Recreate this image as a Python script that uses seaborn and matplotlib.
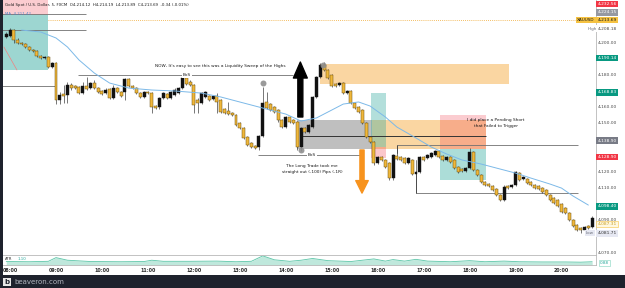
import numpy as np
import pandas as pd
import matplotlib
matplotlib.use("Agg")
import matplotlib.pyplot as plt
import matplotlib.transforms as mtransforms
from matplotlib.patches import Rectangle
import seaborn as sns

sns.set_style("white")
plt.rcParams['font.family'] = ['DejaVu Sans']

# ---------------- data (5-minute candles, XAUUSD) ----------------
times = pd.date_range("2025-01-01 07:55", periods=154, freq="5min")

opens = [4203.1, 4203.7, 4207.4, 4201.2, 4199.4, 4198.8, 4196.9, 4195.1, 4194.4, 4191.3,
         4190.1, 4190.7, 4184.5, 4187.0, 4164.1, 4167.8, 4167.2, 4173.4, 4172.8, 4172.1,
         4168.4, 4172.8, 4171.5, 4174.6, 4171.5, 4169.7, 4168.4, 4170.9, 4165.3, 4171.5,
         4169.1, 4169.1, 4177.1, 4172.8, 4171.5, 4168.4, 4166.0, 4169.1, 4168.4, 4160.4,
         4159.8, 4165.3, 4167.8, 4165.3, 4167.2, 4168.4, 4171.5, 4177.7, 4175.2, 4173.4,
         4164.1, 4162.2, 4166.0, 4166.6, 4164.7, 4166.6, 4164.1, 4158.5, 4157.3, 4156.1,
         4154.8, 4149.9, 4146.8, 4141.2, 4137.5, 4135.6, 4135.0, 4141.8, 4162.9, 4161.6,
         4159.8, 4157.9, 4151.7, 4147.4, 4153.6, 4151.7, 4150.5, 4135.0, 4146.8, 4144.3,
         4147.4, 4166.0, 4178.3, 4185.8, 4182.7, 4179.6, 4174.0, 4173.4, 4174.6, 4168.4,
         4169.7, 4162.2, 4159.8, 4157.9, 4149.9, 4141.2, 4138.1, 4125.1, 4128.8, 4127.0,
         4125.1, 4115.8, 4129.4, 4128.8, 4128.2, 4125.1, 4127.0, 4118.3, 4119.5, 4128.8,
         4128.2, 4128.8, 4130.1, 4132.5, 4129.4, 4127.0, 4128.8, 4127.0, 4122.6, 4121.4,
         4120.2, 4122.0, 4131.9, 4120.8, 4117.7, 4113.3, 4112.1, 4110.9, 4109.0, 4105.3,
         4102.2, 4110.9, 4110.2, 4111.5, 4118.9, 4115.2, 4115.2, 4113.3, 4111.5, 4110.9,
         4109.6, 4108.4, 4105.3, 4103.4, 4102.2, 4099.7, 4097.2, 4094.2, 4089.8, 4086.7,
         4084.9, 4083.6, 4086.1, 4085.5]
highs = [4206.2, 4208.7, 4208.0, 4202.5, 4200.0, 4199.4, 4197.5, 4195.7, 4195.1, 4192.0,
         4191.3, 4191.3, 4187.6, 4187.6, 4169.1, 4173.4, 4175.2, 4174.6, 4173.4, 4172.8,
         4175.2, 4178.3, 4175.2, 4176.5, 4172.1, 4170.3, 4171.5, 4171.5, 4173.4, 4172.1,
         4169.7, 4177.7, 4177.7, 4173.4, 4172.1, 4169.1, 4169.7, 4169.7, 4169.1, 4161.0,
         4166.0, 4169.1, 4168.4, 4169.7, 4171.5, 4172.1, 4180.2, 4179.0, 4176.5, 4174.0,
         4165.3, 4169.1, 4169.7, 4167.2, 4167.2, 4168.4, 4164.7, 4159.1, 4162.9, 4156.7,
         4155.4, 4150.5, 4147.4, 4141.8, 4138.1, 4136.2, 4142.4, 4172.1, 4169.1, 4162.2,
         4160.4, 4158.5, 4152.3, 4154.2, 4154.2, 4152.3, 4151.1, 4147.4, 4147.4, 4149.3,
         4166.6, 4179.0, 4187.0, 4187.6, 4183.3, 4180.2, 4174.6, 4175.2, 4175.2, 4170.3,
         4170.3, 4162.9, 4160.4, 4158.5, 4150.5, 4141.8, 4138.7, 4129.4, 4129.4, 4127.6,
         4125.7, 4130.7, 4136.2, 4129.4, 4128.8, 4128.8, 4127.6, 4120.2, 4129.4, 4129.4,
         4130.7, 4131.9, 4133.2, 4133.2, 4130.1, 4129.4, 4129.4, 4127.6, 4123.3, 4122.0,
         4122.6, 4134.4, 4132.5, 4121.4, 4118.3, 4113.9, 4112.7, 4111.5, 4109.6, 4105.9,
         4111.5, 4111.5, 4112.1, 4120.2, 4119.5, 4117.1, 4115.8, 4113.9, 4112.1, 4111.5,
         4110.2, 4109.0, 4105.9, 4104.0, 4102.8, 4100.3, 4097.9, 4094.8, 4090.4, 4087.3,
         4085.5, 4086.1, 4086.7, 4092.3]
lows = [4202.5, 4203.1, 4199.4, 4198.8, 4198.2, 4196.3, 4194.4, 4193.8, 4190.7, 4189.5,
        4189.5, 4183.9, 4183.9, 4161.6, 4161.6, 4162.2, 4162.2, 4170.3, 4170.9, 4167.8,
        4167.8, 4170.3, 4170.9, 4170.9, 4168.4, 4167.2, 4167.8, 4164.7, 4164.7, 4168.4,
        4166.0, 4164.1, 4172.1, 4170.9, 4167.8, 4165.3, 4165.3, 4167.8, 4156.1, 4158.5,
        4158.5, 4164.7, 4164.7, 4164.7, 4166.6, 4167.8, 4170.9, 4173.4, 4172.8, 4156.1,
        4156.1, 4161.6, 4165.3, 4163.5, 4164.1, 4156.1, 4156.1, 4155.4, 4154.8, 4154.2,
        4148.0, 4146.2, 4140.0, 4135.6, 4134.4, 4133.8, 4133.2, 4141.2, 4158.5, 4157.3,
        4156.1, 4150.5, 4146.8, 4146.8, 4149.9, 4149.3, 4133.2, 4132.5, 4143.7, 4143.7,
        4146.8, 4165.3, 4177.7, 4182.1, 4177.1, 4172.1, 4172.1, 4172.8, 4167.8, 4167.8,
        4161.6, 4158.5, 4156.1, 4149.3, 4140.6, 4137.5, 4123.9, 4124.5, 4126.3, 4122.0,
        4114.6, 4114.6, 4127.0, 4126.3, 4124.5, 4124.5, 4117.7, 4106.5, 4118.9, 4126.3,
        4127.6, 4128.2, 4129.4, 4128.2, 4126.3, 4126.3, 4125.1, 4121.4, 4118.9, 4119.5,
        4119.5, 4121.4, 4120.2, 4117.1, 4112.7, 4110.9, 4110.2, 4107.8, 4104.7, 4101.6,
        4101.6, 4109.0, 4109.6, 4110.9, 4114.0, 4114.6, 4112.1, 4110.9, 4109.0, 4108.4,
        4106.5, 4104.7, 4101.6, 4099.7, 4097.9, 4094.2, 4093.6, 4089.2, 4085.5, 4083.0,
        4081.7, 4081.8, 4084.2, 4084.9]
closes = [4205.0, 4207.4, 4201.2, 4199.4, 4198.8, 4196.9, 4195.1, 4194.4, 4191.3, 4190.1,
          4190.7, 4184.5, 4187.0, 4164.1, 4167.2, 4166.6, 4173.4, 4171.5, 4171.5, 4168.4,
          4172.8, 4170.9, 4174.6, 4171.5, 4169.1, 4167.8, 4170.3, 4165.3, 4171.5, 4169.1,
          4166.6, 4177.1, 4172.8, 4171.5, 4168.4, 4166.0, 4169.1, 4168.4, 4159.8, 4159.1,
          4165.3, 4168.4, 4165.3, 4169.1, 4170.3, 4171.5, 4177.7, 4174.0, 4173.4, 4161.0,
          4162.2, 4168.4, 4169.1, 4164.1, 4166.6, 4162.9, 4156.7, 4156.1, 4155.4, 4154.8,
          4148.6, 4146.8, 4140.6, 4136.2, 4135.0, 4134.4, 4141.8, 4162.2, 4159.1, 4157.9,
          4156.7, 4151.7, 4147.4, 4153.6, 4150.5, 4149.9, 4135.0, 4146.8, 4144.3, 4148.6,
          4166.0, 4178.3, 4185.8, 4182.7, 4177.7, 4172.8, 4172.8, 4174.6, 4168.4, 4169.7,
          4162.2, 4159.1, 4156.7, 4149.9, 4141.2, 4138.1, 4125.1, 4128.8, 4127.0, 4122.6,
          4115.8, 4130.1, 4127.6, 4127.0, 4125.1, 4128.2, 4118.3, 4119.5, 4128.8, 4127.0,
          4130.1, 4131.3, 4132.5, 4128.8, 4127.0, 4128.8, 4125.7, 4122.0, 4119.5, 4120.2,
          4122.0, 4131.9, 4120.8, 4117.7, 4113.3, 4111.5, 4110.9, 4108.4, 4105.3, 4102.2,
          4110.2, 4109.6, 4111.5, 4119.5, 4114.6, 4116.4, 4112.7, 4111.5, 4109.6, 4109.0,
          4107.2, 4105.3, 4102.2, 4100.3, 4098.5, 4094.8, 4094.2, 4089.8, 4086.1, 4083.6,
          4083.6, 4085.5, 4084.9, 4091.1]

# moving average (candle index, value)
ma_idx = [4, 9, 13, 16, 19, 23, 27, 32, 38, 44, 51, 56, 64, 69, 73, 77, 81, 85, 88, 92,
          95, 99, 102, 107, 111, 115, 119, 124, 128, 133, 137, 142, 145, 148, 152]
ma_val = [4207.4, 4206.2, 4202.5, 4196.9, 4188.9, 4180.8, 4174.6, 4171.5, 4170.3, 4169.7,
          4168.4, 4166.0, 4161.0, 4157.9, 4155.4, 4151.1, 4153.0, 4157.9, 4161.6, 4162.9,
          4160.4, 4153.6, 4147.4, 4140.6, 4135.0, 4130.7, 4127.0, 4124.5, 4122.0, 4118.9,
          4115.8, 4112.1, 4109.6, 4104.7, 4099.1]

# ATR sub-panel (candle index, value)
atr_idx = [0, 6, 11, 13, 16, 22, 30, 36, 38, 41, 48, 55, 60, 64, 67, 70, 74, 77, 80, 84,
           90, 96, 99, 101, 104, 107, 110, 116, 121, 125, 130, 134, 140, 146, 150, 153]
atr_val = [1.6, 1.5, 1.7, 3.4, 2.2, 1.6, 1.5, 1.6, 2.2, 1.7, 1.7, 1.8, 1.5, 1.7, 4.2, 2.4,
           1.7, 2.2, 3.0, 2.0, 1.6, 2.8, 1.8, 2.5, 1.8, 2.6, 1.8, 1.5, 2.0, 1.5, 1.8, 1.5,
           1.4, 1.4, 1.3, 1.5]

price_ticks = [4070, 4090, 4110, 4120, 4130, 4140, 4150, 4160, 4170, 4180, 4200]

# ---------------- figure geometry ----------------
W, H = 625, 288
fig = plt.figure(figsize=(W / 100, H / 100), dpi=100)
fig.patch.set_facecolor("white")

def fx(px):
    return px / W

def fy(py):
    return 1 - py / H

ax = fig.add_axes([fx(3), fy(255), fx(593), 255 / H])
ax_atr = fig.add_axes([fx(3), fy(265), fx(593), 10 / H], sharex=ax)

idx = np.arange(len(times))
x_lo, x_hi = -0.84, 154.0
y_lo, y_hi = 4068.2, 4226.0

# ---------------- drawings (behind candles) ----------------
def rect(x0, x1, y0, y1, color, alpha, z=1):
    ax.add_patch(Rectangle((x0, y0), x1 - x0, y1 - y0, facecolor=color,
                           edgecolor="none", alpha=alpha, zorder=z))

# position tool 1 (top-left)
rect(-1.6, 10.9, 4216.7, 4226.0, "#f23645", 0.25)
rect(-1.6, 10.9, 4182.7, 4216.7, "#26a69a", 0.45)
# supply zone upper
rect(81.9, 131.3, 4174.0, 4186.4, "#f59e23", 0.42)
# gray block + orange block
rect(76.0, 95.5, 4133.8, 4151.7, "#8c8c8c", 0.55)
rect(95.5, 125.3, 4133.8, 4151.7, "#f59e23", 0.42)
# long position tool
rect(95.3, 99.2, 4135.0, 4168.4, "#26a69a", 0.35)
rect(95.3, 99.2, 4128.2, 4135.0, "#f23645", 0.28)
# short position tool
rect(113.3, 125.3, 4133.8, 4154.8, "#f23645", 0.25)
rect(113.3, 125.3, 4114.6, 4133.8, "#26a69a", 0.38)

# horizontal lines
def hline(y, x0, x1, color="#707070", lw=0.6, z=2, ls="-"):
    ax.plot([x0, x1], [y, y], color=color, lw=lw, zorder=z, ls=ls, solid_capstyle="butt")

hline(4217.3, -1.6, 20.8)
hline(4207.4, -1.6, 20.8)
hline(4172.8, -1.6, 12.7)
hline(4179.6, 18.7, 74.9)
hline(4130.1, 65.7, 93.0)
hline(4141.8, 76.7, 125.3, color="#333333", lw=0.7)
hline(4136.2, 102.0, 149.3)
ax.plot([102.0, 102.0], [4136.2, 4131.3], color="#707070", lw=0.6, zorder=2)
hline(4106.5, 107.0, 149.3)
ax.plot([107.0, 107.0], [4127.0, 4106.5], color="#707070", lw=0.6, zorder=2)
hline(4213.69, 10.9, x_hi, color="#f0a830", lw=0.6, ls=(0, (1, 1.5)))
ax.plot([-0.6, 2.8], [4196.9, 4182.7], color="#f08080", lw=0.5, zorder=2)

# ---------------- candles ----------------
o = np.array(opens); h = np.array(highs); l = np.array(lows); c = np.array(closes)
up = c >= o
ax.vlines(idx, l, h, color="#2b2b2b", lw=0.45, zorder=3)
body_bottom = np.minimum(o, c)
body_h = np.maximum(np.abs(c - o), 0.35)
ax.bar(idx[up], body_h[up], bottom=body_bottom[up], width=0.78,
       color="#111111", edgecolor="#111111", lw=0.3, zorder=4)
ax.bar(idx[~up], body_h[~up], bottom=body_bottom[~up], width=0.78,
       color="#f0b73a", edgecolor="#6b5212", lw=0.35, zorder=4)

# moving average
sns.lineplot(x=ma_idx, y=ma_val, ax=ax, color="#7cb9e8", lw=0.7, zorder=5, legend=False)

# markers (gray circles)
ax.plot([67.1, 82.7, 77.0], [4174.6, 4185.8, 4133.2], "o", ms=4.3,
        color="#8f8f8f", alpha=0.9, zorder=6, mec="none")

# arrows
ax.annotate("", xy=(76.8, 4187.6), xytext=(76.8, 4153.6), xycoords="data",
            arrowprops=dict(arrowstyle="simple,head_length=1.15,head_width=1.0,tail_width=0.36",
                            color="black", shrinkA=0, shrinkB=0, mutation_scale=10), zorder=7)
ax.annotate("", xy=(92.9, 4106.5), xytext=(92.9, 4133.2), xycoords="data",
            arrowprops=dict(arrowstyle="simple,head_length=0.9,head_width=0.9,tail_width=0.3",
                            color="#f7931e", shrinkA=0, shrinkB=0, mutation_scale=10), zorder=7)

# annotation texts
tk = dict(fontsize=3.1, color="#1a1a1a", zorder=8)
ax.text(55.8, 4185.1, "NOW, It's easy to see this was a Liquidity Sweep of the Highs",
        ha="center", va="center", **tk)
ax.text(47.2, 4179.6, "BoS", ha="center", va="center",
        bbox=dict(boxstyle="square,pad=0.15", fc="white", ec="none"), **tk)
ax.text(79.8, 4130.1, "BoS", ha="center", va="center",
        bbox=dict(boxstyle="square,pad=0.15", fc="white", ec="none"), **tk)
ax.text(79.8, 4121.4, "The Long Trade took me\nstraight out (-100) Pips (-1R)",
        ha="center", va="center", linespacing=1.5, **tk)
ax.text(127.9, 4149.9, "I did place a Pending Short\nthat Failed to Trigger",
        ha="center", va="center", linespacing=1.5, **tk)

ax.set_xlim(x_lo, x_hi)
ax.set_ylim(y_lo, y_hi)
ax.yaxis.tick_right()
ax.set_yticks(price_ticks)
ax.set_yticklabels([f"{v:,.2f}" for v in price_ticks])
ax.tick_params(axis="y", length=0, pad=1.5, labelsize=3.2, labelcolor="#4a4a4a")
ax.tick_params(axis="x", length=0, labelbottom=False)
for s in ["top", "left", "bottom"]:
    ax.spines[s].set_visible(False)
ax.spines["right"].set_color("#b8b8b8")
ax.spines["right"].set_linewidth(0.6)
ax.set_xlabel(""); ax.set_ylabel("")

# ---------------- ATR panel ----------------
ax_atr.fill_between(atr_idx, 0, atr_val, color="#bfe8dc", lw=0, zorder=1)
sns.lineplot(x=atr_idx, y=atr_val, ax=ax_atr, color="#5cc6a8", lw=0.6, legend=False)
ax_atr.set_ylim(0, 4.6)
ax_atr.set_yticks([])
ax_atr.text(0.004, 0.55, "ATR", transform=ax_atr.transAxes, fontsize=2.8, color="#333",
            va="center")
ax_atr.text(0.024, 0.55, "1.10", transform=ax_atr.transAxes, fontsize=2.8,
            color="#26a69a", va="center")
hour_idx = [i for i, t in enumerate(times) if t.minute == 0]
ax_atr.set_xticks(hour_idx)
ax_atr.set_xticklabels([times[i].strftime("%H:%M") for i in hour_idx])
ax_atr.tick_params(axis="x", length=0, pad=2.2, labelsize=3.4, labelcolor="#2a2a2a")
for lab in ax_atr.get_xticklabels():
    lab.set_fontweight("bold")
ax_atr.spines["left"].set_visible(False)
for s in ["top", "bottom", "right"]:
    ax_atr.spines[s].set_color("#b8b8b8")
    ax_atr.spines[s].set_linewidth(0.6)
ax_atr.set_xlim(x_lo, x_hi)
ax_atr.set_xlabel(""); ax_atr.set_ylabel("")

# ---------------- right-axis coloured labels ----------------
tr = mtransforms.blended_transform_factory(fig.transFigure, ax.transData)
def plabel(y, text, fc, tc, ec="none", x=597.5):
    fig.text(fx(x), y, text, transform=tr, fontsize=3.2, color=tc, va="center", ha="left",
             bbox=dict(boxstyle="square,pad=0.3", fc=fc, ec=ec, lw=0.4), zorder=10)

plabel(4223.6, "4,232.56", "#f23645", "white")
plabel(4218.4, "4,224.15", "#9598a1", "white")
plabel(4213.69, "4,213.69", "#f5c242", "#1a1a1a")
fig.text(fx(577), 4213.69, "XAUUSD", transform=tr, fontsize=3.0, color="#1a1a1a",
         va="center", ha="left", bbox=dict(boxstyle="square,pad=0.3", fc="#f5c242", ec="none"),
         zorder=10)
plabel(4208.3, "4,208.18", "white", "#4a4a4a")
fig.text(fx(588), 4208.3, "High", transform=tr, fontsize=3.0, color="#6a6d78",
         va="center", ha="left", zorder=10)
plabel(4190.14, "4,190.14", "#089981", "white")
plabel(4168.83, "4,168.83", "#089981", "white")
plabel(4138.90, "4,138.90", "#787b86", "white")
plabel(4128.90, "4,128.90", "#f23645", "white")
plabel(4098.40, "4,098.40", "#089981", "white")
plabel(4087.31, "4,087.31", "#fff8e1", "#c9a227", ec="#f5c242")
plabel(4081.71, "4,081.71", "#e6e8f2", "#333333")
fig.text(fx(586), 4081.71, "Low", transform=tr, fontsize=3.0, color="#6a6d78",
         va="center", ha="left", bbox=dict(boxstyle="square,pad=0.3", fc="#e6e8f2", ec="none"),
         zorder=10)
fig.text(fx(600), fy(263), "0.88", fontsize=3.0, color="#26a69a", va="center", ha="left",
         bbox=dict(boxstyle="square,pad=0.3", fc="white", ec="#7fd3bd", lw=0.4), zorder=10)

# ---------------- header ----------------
fig.text(fx(5), fy(5), "Gold Spot / U.S. Dollar, 5, FXCM  O4,214.12  H4,214.19  L4,213.89  "
         "C4,213.69  -0.34 (-0.01%)", fontsize=2.8, color="#1a1a1a", va="center", ha="left",
         zorder=10)
fig.text(fx(5), fy(14), "MA  4,211.42", fontsize=2.8, color="#4f86c6", va="center",
         ha="left", zorder=10)

# ---------------- frame / footer ----------------
fig.patches.append(Rectangle((0, 0), 1, 13 / H, transform=fig.transFigure,
                             facecolor="#1e222d", edgecolor="none", zorder=0))
fig.patches.append(Rectangle((0, 0), fx(3), 1, transform=fig.transFigure,
                             facecolor="#1e222d", edgecolor="none", zorder=0))
fig.patches.append(Rectangle((fx(3), fy(286)), fx(8), 8 / H, transform=fig.transFigure,
                             facecolor="#e8e8e8", edgecolor="none", zorder=1))
fig.text(fx(7), fy(282), "b", fontsize=5, color="#1e222d", weight="bold",
         ha="center", va="center")
fig.text(fx(14), fy(281.5), "beaveron.com", fontsize=5, color="#b2b5be",
         ha="left", va="center")

fig.savefig("out.png", dpi=100)
